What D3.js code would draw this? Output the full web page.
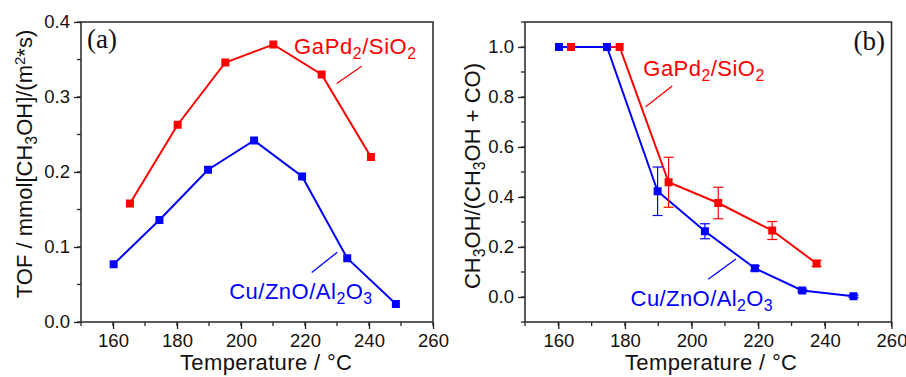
<!DOCTYPE html>
<html>
<head>
<meta charset="utf-8">
<script src="https://cdn.jsdelivr.net/npm/d3@7"></script>
<style>
  body { margin: 0; background: #fff; }
  svg { display: block; font-family: "Liberation Sans", Arial, sans-serif; }
</style>
</head>
<body>
<svg id="chart" width="906" height="377"></svg>
<script>
// ---- data ----
// panel (a): TOF vs temperature
var tempRedA = [165.3, 180.2, 195.1, 210.1, 225.2, 240.6];
var tofRed = [0.158, 0.263, 0.346, 0.370, 0.330, 0.220];
var tempBlueA = [160.2, 174.5, 189.7, 204.1, 219.1, 233.2, 248.4];
var tofBlue = [0.077, 0.136, 0.203, 0.242, 0.194, 0.085, 0.024];

// panel (b): selectivity vs temperature
var tempRedB = [163.8, 178.4, 193.1, 208.0, 224.2, 237.5];
var selRed = [1.0, 1.0, 0.459, 0.376, 0.266, 0.134];
var errRed = [0, 0, 0.10, 0.063, 0.036, 0.012];
var tempBlueB = [160.2, 174.6, 189.8, 204.0, 219.0, 233.2, 248.6];
var selBlue = [1.0, 1.0, 0.423, 0.263, 0.115, 0.026, 0.003];
var errBlue = [0, 0, 0.097, 0.03, 0.01, 0.005, 0.005];

var xTicks = [160, 180, 200, 220, 240, 260];
var yTicksA = [0.0, 0.1, 0.2, 0.3, 0.4];
var yTicksB = [0.0, 0.2, 0.4, 0.6, 0.8, 1.0];

var RED = "#ff0000", BLUE = "#0000ff";
var FS = 22;  // annotation / title size
var svg = d3.select("#chart");

function zip(xs, ys, es) {
  return xs.map(function(x, i) { return { x: x, y: ys[i], e: es ? es[i] : 0 }; });
}

// draw one framed panel, returns scales
function panel(box, xDomain, yDomain, yTicks, yMinorStep, yFmt) {
  var x = d3.scaleLinear().domain(xDomain).range([box.left, box.right]);
  var y = d3.scaleLinear().domain(yDomain).range([box.bottom, box.top]);
  var g = svg.append("g");

  // minor ticks
  var xMinor = d3.range(xDomain[0], xDomain[1] + 0.01, 10);
  g.selectAll(".xm").data(xMinor).enter().append("line")
    .attr("x1", d => x(d)).attr("x2", d => x(d))
    .attr("y1", box.bottom).attr("y2", box.bottom + 4)
    .attr("stroke", "#222").attr("stroke-width", 1.3);
  var yMinor = d3.range(yDomain[0], yDomain[1] + 1e-6, yMinorStep);
  g.selectAll(".ym").data(yMinor).enter().append("line")
    .attr("y1", d => y(d)).attr("y2", d => y(d))
    .attr("x1", box.left).attr("x2", box.left - 4)
    .attr("stroke", "#222").attr("stroke-width", 1.3);

  // major axes via d3
  var xAxis = d3.axisBottom(x).tickValues(xTicks).tickSize(7).tickPadding(5)
    .tickFormat(d3.format("d"));
  g.append("g").attr("transform", "translate(0," + box.bottom + ")").call(xAxis)
    .call(s => s.select(".domain").remove())
    .call(s => s.selectAll("line").attr("stroke", "#222").attr("stroke-width", 1.3))
    .call(s => s.selectAll("text").attr("font-size", 18.5).attr("fill", "#111")
      .attr("font-family", "Liberation Sans, Arial, sans-serif"));
  var yAxis = d3.axisLeft(y).tickValues(yTicks).tickSize(7).tickPadding(4)
    .tickFormat(d3.format(yFmt));
  g.append("g").attr("transform", "translate(" + box.left + ",0)").call(yAxis)
    .call(s => s.select(".domain").remove())
    .call(s => s.selectAll("line").attr("stroke", "#222").attr("stroke-width", 1.3))
    .call(s => s.selectAll("text").attr("font-size", 18.5).attr("fill", "#111")
      .attr("font-family", "Liberation Sans, Arial, sans-serif"));

  // frame
  g.append("rect").attr("x", box.left).attr("y", box.top)
    .attr("width", box.right - box.left).attr("height", box.bottom - box.top)
    .attr("fill", "none").attr("stroke", "#333").attr("stroke-width", 1.6);

  return { x: x, y: y, g: g };
}

function series(p, pts, color) {
  var line = d3.line().x(d => p.x(d.x)).y(d => p.y(d.y));
  p.g.append("path").datum(pts).attr("d", line)
    .attr("fill", "none").attr("stroke", color).attr("stroke-width", 2);
}

function markers(p, pts, color, withErr) {
  if (withErr) {
    var e = pts.filter(d => d.e > 0);
    var eg = p.g.append("g").attr("stroke", color).attr("stroke-width", 1.2);
    eg.selectAll(".v").data(e).enter().append("line")
      .attr("x1", d => p.x(d.x)).attr("x2", d => p.x(d.x))
      .attr("y1", d => p.y(d.y - d.e)).attr("y2", d => p.y(d.y + d.e));
    [-1, 1].forEach(function(s) {
      eg.selectAll(".c" + s).data(e).enter().append("line")
        .attr("x1", d => p.x(d.x) - 5).attr("x2", d => p.x(d.x) + 5)
        .attr("y1", d => p.y(d.y + s * d.e)).attr("y2", d => p.y(d.y + s * d.e));
    });
  }
  p.g.selectAll(null).data(pts).enter().append("rect")
    .attr("x", d => p.x(d.x) - 4).attr("y", d => p.y(d.y) - 4)
    .attr("width", 8).attr("height", 8).attr("fill", color);
}

// rich text with sub/superscripts: parts = [[text, "n"|"sub"|"sup"], ...]
function rich(sel, parts, size) {
  parts.forEach(function(p) {
    var t = sel.append("tspan").text(p[0]);
    if (p[1] === "sub") t.attr("font-size", size * 0.72).attr("baseline-shift", "-30%");
    else if (p[1] === "sup") t.attr("font-size", size * 0.68).attr("baseline-shift", "50%");
  });
  return sel;
}

function leader(p, x1, y1, x2, y2, color) {
  p.g.append("line").attr("x1", p.x(x1)).attr("y1", p.y(y1))
    .attr("x2", p.x(x2)).attr("y2", p.y(y2))
    .attr("stroke", color).attr("stroke-width", 1.3);
}

var gapaParts = [["GaPd", "n"], ["2", "sub"], ["/SiO", "n"], ["2", "sub"]];
var cuParts = [["Cu/ZnO/Al", "n"], ["2", "sub"], ["O", "n"], ["3", "sub"]];

// ---------- panel (a) ----------
var pa = panel({ left: 81, right: 433, top: 22, bottom: 322 }, [150, 260], [0, 0.4], yTicksA, 0.05, ".1f");
var redA = zip(tempRedA, tofRed), blueA = zip(tempBlueA, tofBlue);
series(pa, redA, RED); series(pa, blueA, BLUE);
markers(pa, redA, RED); markers(pa, blueA, BLUE);
leader(pa, 229.9, 0.318, 237.7, 0.341, RED);
leader(pa, 222.1, 0.066, 230.1, 0.093, BLUE);
rich(pa.g.append("text").attr("x", pa.x(216.6)).attr("y", pa.y(0.357))
  .attr("font-size", FS).attr("fill", RED).attr("textLength", 122), gapaParts, FS);
rich(pa.g.append("text").attr("x", pa.x(196.3)).attr("y", pa.y(0.031))
  .attr("font-size", FS).attr("fill", BLUE).attr("textLength", 143), cuParts, FS);
pa.g.append("text").attr("x", 87).attr("y", 48).attr("font-family", "Liberation Serif, Times New Roman, serif")
  .attr("font-size", 27).attr("fill", "#111").text("(a)");

rich(svg.append("text").attr("transform", "translate(32,164) rotate(-90)")
  .attr("text-anchor", "middle").attr("font-size", FS).attr("fill", "#111"),
  [["TOF / mmol[CH", "n"], ["3", "sub"], ["OH]/(m", "n"], ["2", "sup"], ["*s)", "n"]], FS);
svg.append("text").attr("x", 266).attr("y", 370).attr("text-anchor", "middle")
  .attr("font-size", FS).attr("fill", "#111").attr("textLength", 172).text("Temperature / \u00b0C");

// ---------- panel (b) ----------
var pb = panel({ left: 525, right: 891.5, top: 22, bottom: 322 }, [150, 260], [-0.1, 1.1], yTicksB, 0.1, ".1f");
var redB = zip(tempRedB, selRed, errRed), blueB = zip(tempBlueB, selBlue, errBlue);
series(pb, redB, RED); series(pb, blueB, BLUE);
markers(pb, redB, RED, true); markers(pb, blueB, BLUE, true);
leader(pb, 186.2, 0.761, 194.2, 0.844, RED);
leader(pb, 205.0, 0.071, 213.3, 0.152, BLUE);
rich(pb.g.append("text").attr("x", pb.x(185.5)).attr("y", pb.y(0.884))
  .attr("font-size", FS).attr("fill", RED).attr("textLength", 121), gapaParts, FS);
rich(pb.g.append("text").attr("x", pb.x(181.7)).attr("y", pb.y(-0.037))
  .attr("font-size", FS).attr("fill", BLUE).attr("textLength", 142), cuParts, FS);
pb.g.append("text").attr("x", 885).attr("y", 50).attr("text-anchor", "end")
  .attr("font-family", "Liberation Serif, Times New Roman, serif")
  .attr("font-size", 27).attr("fill", "#111").text("(b)");

rich(svg.append("text").attr("transform", "translate(480,176) rotate(-90)")
  .attr("text-anchor", "middle").attr("font-size", FS).attr("fill", "#111"),
  [["CH", "n"], ["3", "sub"], ["OH/(CH", "n"], ["3", "sub"], ["OH + CO)", "n"]], FS);
svg.append("text").attr("x", 711).attr("y", 370).attr("text-anchor", "middle")
  .attr("font-size", FS).attr("fill", "#111").attr("textLength", 172).text("Temperature / \u00b0C");
</script>
</body>
</html>
